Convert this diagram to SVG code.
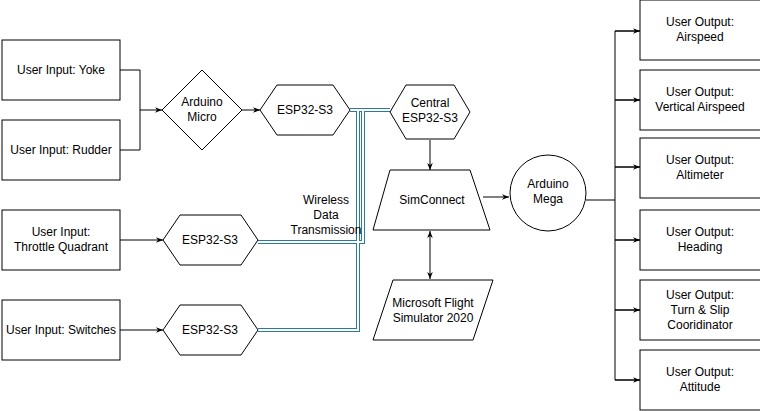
<svg xmlns="http://www.w3.org/2000/svg" width="760" height="411" viewBox="0 0 760 411">
<defs><marker id="a" viewBox="0 0 10 10" refX="10" refY="5" markerWidth="7" markerHeight="7" orient="auto-start-reverse"><path d="M0,1 L10,5 L0,9 L3,5 Z" fill="#000"/></marker></defs>
<style>
.n{fill:#fff;stroke:#000;stroke-width:1}
.t{font-family:"Liberation Sans",Arial,sans-serif;font-size:12px;text-anchor:middle;fill:#000}
.c{fill:none;stroke:#000;stroke-width:1}
.w1{fill:none;stroke:#2b7a99;stroke-width:4}
.w2{fill:none;stroke:#fff;stroke-width:2}
</style>
<rect width="760" height="411" fill="#fff"/>
<g id="connectors">
<path class="c" d="M120,70 H140 V150 H120 M140,110 H162" marker-end="url(#a)"/>
<path class="c" d="M242,110 H260" marker-end="url(#a)"/>
<path class="c" d="M120,240 H163" marker-end="url(#a)"/>
<path class="c" d="M120,330 H163" marker-end="url(#a)"/>
<path class="c" d="M430,140 V170" marker-end="url(#a)" stroke="#555"/>
<path class="c" d="M430,231 V279" marker-start="url(#a)" marker-end="url(#a)" stroke-width="1.5"/>
<path class="c" d="M483,197 H509" marker-end="url(#a)"/>
<path class="c" d="M586,200 H615 M615,31 V380 M615,31 H640 M615,100 H640 M615,167 H640 M615,240 H640 M615,310 H640 M615,380 H640"/>
<path class="c" d="M615,31 H640" marker-end="url(#a)"/>
<path class="c" d="M615,100 H640" marker-end="url(#a)"/>
<path class="c" d="M615,167 H640" marker-end="url(#a)"/>
<path class="c" d="M615,240 H640" marker-end="url(#a)"/>
<path class="c" d="M615,310 H640" marker-end="url(#a)"/>
<path class="c" d="M615,380 H640" marker-end="url(#a)"/>
<g>
<path class="w1" d="M350,110 H390 M358,111 V330 H258 M363,111 V242 H258"/>
<path class="w2" d="M350,110 H390 M358,111 V330 H258 M363,111 V242 H258"/>
</g>
</g>
<g id="yoke"><rect class="n" x="2" y="40" width="118" height="60"/><text class="t" x="61" y="74">User Input: Yoke</text></g>
<g id="rudder"><rect class="n" x="2" y="120" width="118" height="60"/><text class="t" x="61" y="154">User Input: Rudder</text></g>
<g id="throttle"><rect class="n" x="2" y="210" width="118" height="60"/><text class="t" x="61" y="236">User Input:</text><text class="t" x="61" y="251">Throttle Quadrant</text></g>
<g id="switches"><rect class="n" x="2" y="300" width="118" height="60"/><text class="t" x="61" y="334">User Input: Switches</text></g>
<g id="micro"><path class="n" d="M202,70 L242,110 L202,150 L162,110 Z"/><text class="t" x="202" y="106">Arduino</text><text class="t" x="202" y="121">Micro</text></g>
<g id="esp1"><path class="n" d="M260,110 L277,85 L333,85 L350,110 L333,135 L277,135 Z"/><text class="t" x="305" y="114">ESP32-S3</text></g>
<g id="esp2"><path class="n" d="M163,240 L180,215 L241,215 L258,240 L241,265 L180,265 Z"/><text class="t" x="210" y="244">ESP32-S3</text></g>
<g id="esp3"><path class="n" d="M163,330 L180,305 L241,305 L258,330 L241,355 L180,355 Z"/><text class="t" x="210" y="334">ESP32-S3</text></g>
<g id="central"><path class="n" d="M390,112 L406,85 L454,85 L470,112 L454,139 L406,139 Z" stroke="#555"/><text class="t" x="430" y="107">Central</text><text class="t" x="430" y="122">ESP32-S3</text></g>
<g id="simconnect"><path class="n" d="M390,170 L470,170 L490,230 L373,230 Z"/><text class="t" x="432" y="204">SimConnect</text></g>
<g id="msfs"><path class="n" d="M393,280 L493,280 L473,340 L373,340 Z"/><text class="t" x="433" y="307">Microsoft Flight</text><text class="t" x="433" y="322">Simulator 2020</text></g>
<g id="mega"><circle class="n" cx="548" cy="193" r="38"/><text class="t" x="548" y="188">Arduino</text><text class="t" x="548" y="203">Mega</text></g>
<text class="t" x="326" y="204">Wireless</text><text class="t" x="326" y="219">Data</text><text class="t" x="326" y="234">Transmission</text>
<g id="o1"><rect class="n" x="640" y="0" width="125" height="60"/><text class="t" x="700" y="26">User Output:</text><text class="t" x="700" y="41">Airspeed</text></g>
<g id="o2"><rect class="n" x="640" y="70" width="125" height="60"/><text class="t" x="700" y="96">User Output:</text><text class="t" x="700" y="111">Vertical Airspeed</text></g>
<g id="o3"><rect class="n" x="640" y="138" width="125" height="60" stroke="#555"/><text class="t" x="700" y="164">User Output:</text><text class="t" x="700" y="179">Altimeter</text></g>
<g id="o4"><rect class="n" x="640" y="210" width="125" height="60"/><text class="t" x="700" y="236">User Output:</text><text class="t" x="700" y="251">Heading</text></g>
<g id="o5"><rect class="n" x="640" y="280" width="125" height="60"/><text class="t" x="700" y="299">User Output:</text><text class="t" x="700" y="314">Turn &amp; Slip</text><text class="t" x="700" y="329">Cooridinator</text></g>
<g id="o6"><rect class="n" x="640" y="350" width="125" height="60"/><text class="t" x="700" y="376">User Output:</text><text class="t" x="700" y="391">Attitude</text></g>
</svg>
